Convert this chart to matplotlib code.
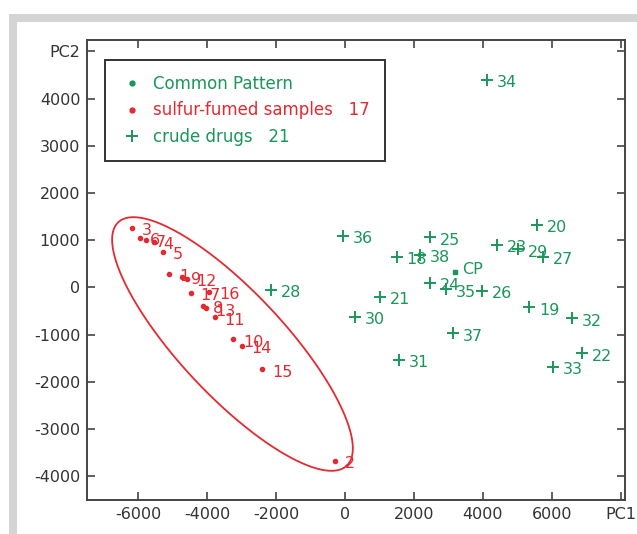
#
# PCA score plot: sulfur-fumed samples vs crude drugs
#
import numpy as np
import matplotlib
matplotlib.use('Agg')
import matplotlib.pyplot as plt
from matplotlib.lines import Line2D
from matplotlib.patches import Rectangle


GREEN = '#1a965a'
RED = '#e32a30'

# sulfur-fumed samples 1..17
sf_ids = [str(i) for i in range(1, 18)]
sf_pc1 = [-5094, -290, -6184, -5538, -5268, -5929, -5770, -4108, -4735,
          -3239, -3769, -4581, -4030, -2995, -2398, -3934, -4473]
sf_pc2 = [282, -3680, 1263, 960, 754, 1051, 1013, -396, 225,
          -1102, -636, 176, -445, -1244, -1737, -100, -114]

# crude drugs 18..38
cd_ids = [str(i) for i in range(18, 39)]
cd_pc1 = [1499, 5344, 5558, 1015, 6863, 4398, 2464, 2464, 3981, 5749,
          -2146, 5025, 290, 1574, 6573, 6040, 4108, 2928, -49, 3123, 2175]
cd_pc2 = [648, -424, 1320, -199, -1398, 896, 97, 1059, -72, 648,
          -57, 805, -623, -1540, -657, -1682, 4392, -42, 1087, -975, 684]

# common pattern
cp_pc1 = [3189]
cp_pc2 = [318]

# ellipse around sulfur-fumed group (center, half major axis, half minor axis)
ell_center = (-3262, -1201)
ell_major = (3312, -2579)
ell_minor = (1099, 754)

xticks = [-6000, -4000, -2000, 0, 2000, 4000, 6000, 8000]
xlabels = ['-6000', '-4000', '-2000', '0', '2000', '4000', '6000', 'PC1']
yticks = [-4000, -3000, -2000, -1000, 0, 1000, 2000, 3000, 4000, 5000]
ylabels = ['-4000', '-3000', '-2000', '-1000', '0', '1000', '2000', '3000', '4000', 'PC2']


fig = plt.figure(figsize=(6.37, 5.34), dpi=100)
fig.patch.set_facecolor('white')
fig.patches.append(Rectangle((9/637, 0), 1, 520/534, transform=fig.transFigure,
                             facecolor='#d4d4d4', edgecolor='none', zorder=-10))
fig.patches.append(Rectangle((17/637, 0), 1, 512/534, transform=fig.transFigure,
                             facecolor='white', edgecolor='none', zorder=-9))

ax = fig.add_axes([0.137, 0.0637, 0.844, 0.8614])
ax.set_facecolor('white')

# ellipse
t = np.linspace(0, 2*np.pi, 300)
ex = ell_center[0] + ell_major[0]*np.cos(t) + ell_minor[0]*np.sin(t)
ey = ell_center[1] + ell_major[1]*np.cos(t) + ell_minor[1]*np.sin(t)
ax.plot(ex, ey, color=RED, lw=1.3)

ax.plot(sf_pc1, sf_pc2, '.', color=RED, ms=6, ls='none')
ax.plot(cd_pc1, cd_pc2, '+', color=GREEN, ms=9, mew=1.4, ls='none')
ax.plot(cp_pc1, cp_pc2, 's', color=GREEN, ms=3, ls='none')

for x, y, s in zip(sf_pc1, sf_pc2, sf_ids):
    ax.annotate(s, (x, y), xytext=(7, -2), textcoords='offset points',
                color=RED, fontsize=11.5, va='center', ha='left')
for x, y, s in zip(cd_pc1, cd_pc2, cd_ids):
    ax.annotate(s, (x, y), xytext=(7, -2), textcoords='offset points',
                color=GREEN, fontsize=11.5, va='center', ha='left')
ax.annotate('CP', (cp_pc1[0], cp_pc2[0]), xytext=(5, 2), textcoords='offset points',
            color=GREEN, fontsize=11.5, va='center', ha='left')

ax.set_xlim(-7472, 8116)
ax.set_ylim(-4506, 5240)
ax.set_xticks(xticks)
ax.set_xticklabels(xlabels)
ax.set_yticks(yticks)
ax.set_yticklabels(ylabels)
ax.tick_params(direction='in', length=6, width=1.2, top=True, right=True,
               labelsize=11.5, labelcolor='#333333', color='#444444', pad=5)
for sp in ax.spines.values():
    sp.set_color('#444444')
    sp.set_linewidth(1.4)

handles = [Line2D([], [], marker='.', color=GREEN, ls='none', ms=7),
           Line2D([], [], marker='.', color=RED, ls='none', ms=7),
           Line2D([], [], marker='+', color=GREEN, ls='none', ms=9, mew=1.4)]
labels = ['Common Pattern', 'sulfur-fumed samples   17', 'crude drugs   21']
leg = ax.legend(handles, labels, loc='upper left', bbox_to_anchor=(0.033, 0.9565),
                borderaxespad=0, fancybox=False, framealpha=1, fontsize=12,
                labelcolor=[GREEN, RED, GREEN], handlelength=1.4,
                handletextpad=0.6, labelspacing=0.5, borderpad=0.9)
leg.get_frame().set_edgecolor('#333333')
leg.get_frame().set_linewidth(1.4)

plt.savefig('out.png', dpi=100)
